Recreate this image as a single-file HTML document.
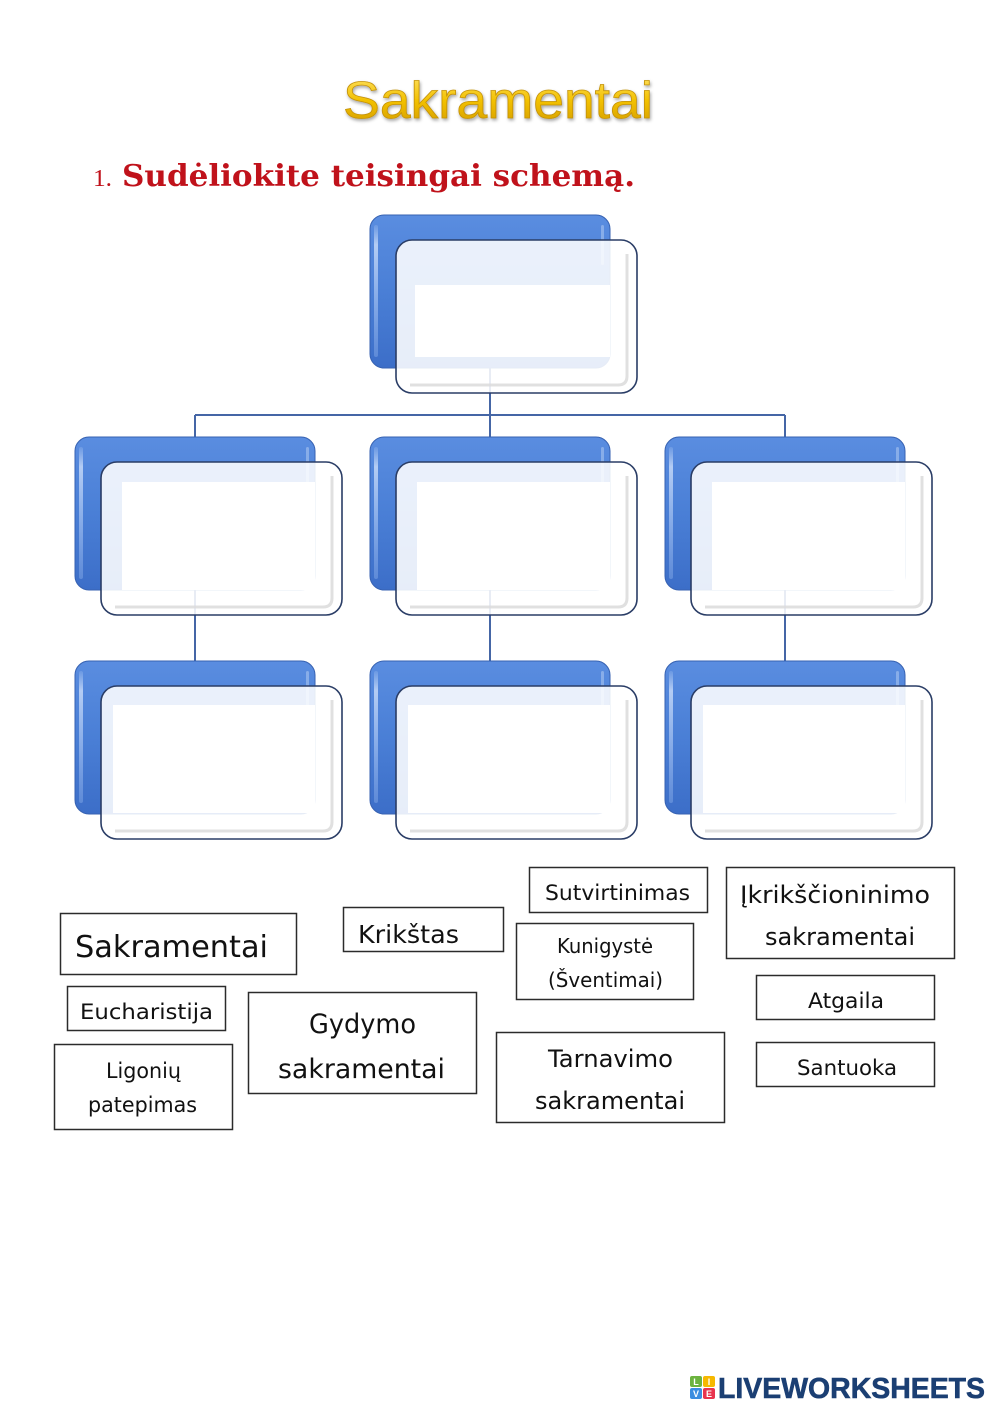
<!DOCTYPE html>
<html>
<head>
<meta charset="utf-8">
<style>
  html,body{margin:0;padding:0;background:#fff;}
  svg{display:block;}
  .lbl{font-family:"DejaVu Sans","Liberation Sans",sans-serif;fill:#111;}
</style>
</head>
<body>
<svg width="999" height="1413" viewBox="0 0 999 1413" xmlns="http://www.w3.org/2000/svg">
  <defs>
    <linearGradient id="gold" x1="0" y1="0" x2="0" y2="1">
      <stop offset="0" stop-color="#ffe46a"/>
      <stop offset="0.5" stop-color="#f2c000"/>
      <stop offset="1" stop-color="#cf9800"/>
    </linearGradient>
    <filter id="tsh" x="-10%" y="-20%" width="120%" height="150%">
      <feDropShadow dx="1" dy="2" stdDeviation="1.5" flood-color="#000" flood-opacity="0.35"/>
    </filter>
    <linearGradient id="blue" x1="0" y1="0" x2="0" y2="1">
      <stop offset="0" stop-color="#5a8de0"/>
      <stop offset="0.5" stop-color="#4a7fd6"/>
      <stop offset="1" stop-color="#3c6ec8"/>
    </linearGradient>
    <linearGradient id="hl" x1="0" y1="0" x2="0" y2="1">
      <stop offset="0" stop-color="#b9d0f5" stop-opacity="0.2"/>
      <stop offset="0.15" stop-color="#b9d0f5" stop-opacity="0.95"/>
      <stop offset="1" stop-color="#8fb2ec" stop-opacity="0.4"/>
    </linearGradient>
    <g id="blueBox">
      <rect x="0" y="0" width="240" height="153" rx="14" fill="url(#blue)" stroke="#3762b2" stroke-width="1"/>
      <rect x="4" y="10" width="4" height="132" rx="2" fill="url(#hl)"/>
      <rect x="231" y="10" width="3" height="40" rx="1.5" fill="#a9c4f0" opacity="0.6"/>
    </g>
    <g id="whiteBox">
      <rect x="0" y="0" width="241" height="153" rx="16" fill="#ffffff" fill-opacity="0.88" stroke="#2a3d66" stroke-width="1.6"/>
    </g>
    <g id="bevel">
      <path d="M231 14 V136 Q231 145 222 145 H14" fill="none" stroke="#dadada" stroke-width="3" opacity="0.85"/>
    </g>
  </defs>

  <!-- Title -->
  <text x="343" y="118" font-family="Liberation Sans, sans-serif" font-size="52" fill="url(#gold)" stroke="#c49208" stroke-width="0.8" filter="url(#tsh)" textLength="310" lengthAdjust="spacingAndGlyphs">Sakramentai</text>

  <!-- Subtitle -->
  <text x="93" y="186" font-family="Liberation Serif, serif" font-size="24" fill="#c0121b" textLength="19" lengthAdjust="spacingAndGlyphs">1.</text>
  <text x="122" y="186" font-family="DejaVu Serif, Liberation Serif, serif" font-weight="bold" font-size="30" fill="#c0121b" textLength="513" lengthAdjust="spacingAndGlyphs">Sudėliokite teisingai schemą.</text>

  <!-- Connectors -->
  <g stroke="#4566a6" stroke-width="2" fill="none">
    <line x1="490" y1="368" x2="490" y2="437"/>
    <line x1="195" y1="415" x2="785" y2="415"/>
    <line x1="195" y1="415" x2="195" y2="437"/>
    <line x1="785" y1="415" x2="785" y2="437"/>
    <line x1="195" y1="590" x2="195" y2="661"/>
    <line x1="490" y1="590" x2="490" y2="661"/>
    <line x1="785" y1="590" x2="785" y2="661"/>
  </g>

  <!-- Top node -->
  <use href="#blueBox" x="370" y="215"/>
  <use href="#whiteBox" x="396" y="240"/>
  <rect x="415" y="285" width="195" height="72" fill="#fff"/>
  <use href="#bevel" x="396" y="240"/>

  <!-- Row 2 -->
  <use href="#blueBox" x="75" y="437"/>
  <use href="#whiteBox" x="101" y="462"/>
  <rect x="122" y="482" width="193" height="108" fill="#fff"/>
  <use href="#bevel" x="101" y="462"/>

  <use href="#blueBox" x="370" y="437"/>
  <use href="#whiteBox" x="396" y="462"/>
  <rect x="417" y="482" width="193" height="108" fill="#fff"/>
  <use href="#bevel" x="396" y="462"/>

  <use href="#blueBox" x="665" y="437"/>
  <use href="#whiteBox" x="691" y="462"/>
  <rect x="712" y="482" width="193" height="108" fill="#fff"/>
  <use href="#bevel" x="691" y="462"/>

  <!-- Row 3 -->
  <use href="#blueBox" x="75" y="661"/>
  <use href="#whiteBox" x="101" y="686"/>
  <rect x="113" y="705" width="202" height="108" fill="#fff"/>
  <use href="#bevel" x="101" y="686"/>

  <use href="#blueBox" x="370" y="661"/>
  <use href="#whiteBox" x="396" y="686"/>
  <rect x="408" y="705" width="202" height="108" fill="#fff"/>
  <use href="#bevel" x="396" y="686"/>

  <use href="#blueBox" x="665" y="661"/>
  <use href="#whiteBox" x="691" y="686"/>
  <rect x="703" y="705" width="202" height="108" fill="#fff"/>
  <use href="#bevel" x="691" y="686"/>

  <!-- Label boxes -->
  <g fill="#fff" stroke="#2b2b2b" stroke-width="1.5">
    <rect x="60.5" y="913.5" width="236" height="61"/>
    <rect x="343.5" y="907.5" width="160" height="44"/>
    <rect x="67.5" y="986.5" width="158" height="44"/>
    <rect x="54.5" y="1044.5" width="178" height="85"/>
    <rect x="248.5" y="992.5" width="228" height="101"/>
    <rect x="529.5" y="867.5" width="178" height="45"/>
    <rect x="516.5" y="923.5" width="177" height="76"/>
    <rect x="726.5" y="867.5" width="228" height="91"/>
    <rect x="496.5" y="1032.5" width="228" height="90"/>
    <rect x="756.5" y="975.5" width="178" height="44"/>
    <rect x="756.5" y="1042.5" width="178" height="44"/>
  </g>

  <g class="lbl">
    <text x="75" y="957" font-size="30" textLength="193" lengthAdjust="spacingAndGlyphs">Sakramentai</text>
    <text x="358" y="943" font-size="25" textLength="101" lengthAdjust="spacingAndGlyphs">Krikštas</text>
    <text x="80" y="1019" font-size="21" textLength="133" lengthAdjust="spacingAndGlyphs">Eucharistija</text>
    <text x="106" y="1078" font-size="21" textLength="75" lengthAdjust="spacingAndGlyphs">Ligonių</text>
    <text x="88" y="1112" font-size="21" textLength="109" lengthAdjust="spacingAndGlyphs">patepimas</text>
    <text x="309" y="1033" font-size="27" textLength="107" lengthAdjust="spacingAndGlyphs">Gydymo</text>
    <text x="278" y="1078" font-size="27" textLength="167" lengthAdjust="spacingAndGlyphs">sakramentai</text>
    <text x="545" y="900" font-size="21" textLength="145" lengthAdjust="spacingAndGlyphs">Sutvirtinimas</text>
    <text x="557" y="953" font-size="20" textLength="96" lengthAdjust="spacingAndGlyphs">Kunigystė</text>
    <text x="548" y="987" font-size="20" textLength="115" lengthAdjust="spacingAndGlyphs">(Šventimai)</text>
    <text x="740" y="903" font-size="24" textLength="190" lengthAdjust="spacingAndGlyphs">Įkrikščioninimo</text>
    <text x="765" y="945" font-size="24" textLength="150" lengthAdjust="spacingAndGlyphs">sakramentai</text>
    <text x="548" y="1067" font-size="24" textLength="125" lengthAdjust="spacingAndGlyphs">Tarnavimo</text>
    <text x="535" y="1109" font-size="24" textLength="150" lengthAdjust="spacingAndGlyphs">sakramentai</text>
    <text x="808" y="1008" font-size="21" textLength="76" lengthAdjust="spacingAndGlyphs">Atgaila</text>
    <text x="797" y="1075" font-size="21" textLength="100" lengthAdjust="spacingAndGlyphs">Santuoka</text>
  </g>

  <!-- Logo -->
  <g font-family="Liberation Sans, sans-serif" font-weight="bold" font-size="9" fill="#fff" text-anchor="middle">
    <rect x="690" y="1376" width="12" height="11" rx="2" fill="#6cb33f"/>
    <rect x="703" y="1376" width="12" height="11" rx="2" fill="#f6b800"/>
    <rect x="690" y="1388" width="12" height="11" rx="2" fill="#3b8de0"/>
    <rect x="703" y="1388" width="12" height="11" rx="2" fill="#e8344e"/>
    <text x="696" y="1385">L</text>
    <text x="709" y="1385">I</text>
    <text x="696" y="1397">V</text>
    <text x="709" y="1397">E</text>
  </g>
  <text x="718" y="1398" font-family="Liberation Sans, sans-serif" font-weight="bold" font-size="29" fill="#1b3f73" stroke="#1b3f73" stroke-width="0.6" textLength="267" lengthAdjust="spacingAndGlyphs">LIVEWORKSHEETS</text>
</svg>
</body>
</html>
